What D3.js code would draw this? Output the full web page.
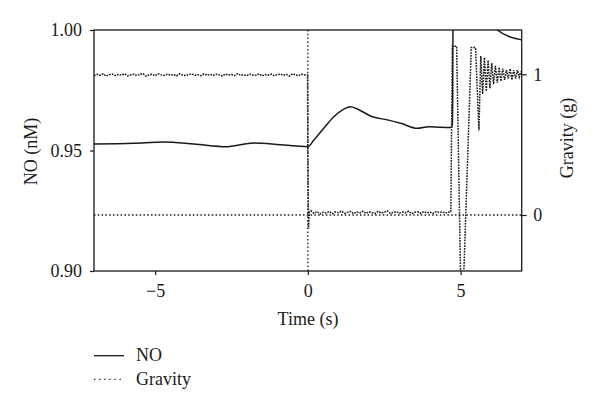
<!DOCTYPE html>
<html>
<head>
<meta charset="utf-8">
<script src="https://cdn.jsdelivr.net/npm/d3@7"></script>
<style>
  body { margin: 0; background: #fff; }
  svg { display: block; }
  text { font-family: "Liberation Serif", "DejaVu Serif", serif; fill: #1a1a1a; }
</style>
</head>
<body>
<svg id="chart" width="600" height="412"></svg>
<script>
// ---------------- DATA ----------------
// NO (nM), left axis — time (s)
const noTime = [-7.0, -5.7, -4.72, -3.73, -2.64, -1.77, -0.9, 0.0,
  0.2, 0.52, 0.85, 1.18, 1.4, 1.62, 2.11, 2.6, 3.04, 3.58, 3.96, 4.35, 4.67, 4.71, 4.73, 4.74, 4.76,
  5.5, 6.2, 7.0];
const noValue = [0.9527, 0.9530, 0.9535, 0.9527, 0.9516, 0.9531, 0.9524, 0.9516,
  0.9544, 0.9592, 0.9640, 0.9672, 0.9682, 0.9672, 0.9640, 0.9627, 0.9613, 0.9592, 0.9599, 0.9596, 0.9595, 0.9598, 0.9610, 0.9700, 1.0300,
  1.0100, 1.0000, 0.9959];

// Gravity (g), right axis — 1 g plateau before t = 0 (sampled every 0.1 s)
const gravityPreStart = -7.0;
const gravityPre = [0.990,1.000,0.993,1.003,0.988,0.997,1.002,0.991,0.998,0.994,
  1.004,0.989,0.996,1.001,0.992,0.999,1.006,0.987,0.995,1.000,
  0.990,1.003,0.996,0.992,1.001,0.994,0.998,0.989,1.004,0.995,
  0.991,0.999,1.002,0.993,0.997,0.990,1.003,0.994,0.999,0.992,
  1.001,0.996,0.988,1.002,0.995,0.999,0.991,1.004,0.993,0.997,
  0.990,1.000,0.995,0.992,1.003,0.989,0.998,0.994,1.001,0.991,
  0.997,1.002,0.993,0.999,0.988,1.004,0.995,0.991,1.000,0.996];
// transition at t = 0
const gravityDropTime = [-0.01, 0.0, 0.02, 0.05];
const gravityDrop = [0.996, 0.50, -0.10, 0.02];
// microgravity phase (sampled every 0.1 s from 0.1 s)
const gravityMicroStart = 0.1;
const gravityMicro = [0.030,0.012,0.024,0.008,0.020,0.014,0.026,0.010,0.022,0.016,
  0.028,0.011,0.019,0.025,0.009,0.021,0.015,0.027,0.012,0.023,
  0.017,0.010,0.026,0.014,0.020,0.029,0.011,0.018,0.024,0.013,
  0.021,0.016,0.027,0.010,0.019,0.023,0.012,0.025,0.015,0.020,
  0.011,0.024,0.017,0.022,0.013,0.019];
// landing / oscillation phase
const gravityEndTime = [4.68, 4.73, 4.75, 4.87, 5.00, 5.10, 5.35, 5.49, 5.60,
  5.66, 5.72, 5.78, 5.84, 5.90, 5.96, 6.02, 6.08, 6.14, 6.20, 6.26, 6.32, 6.38,
  6.44, 6.50, 6.56, 6.62, 6.68, 6.74, 6.80, 6.86, 6.92, 6.98];
const gravityEnd = [0.02, 1.20, 1.20, 1.20, -0.45, -0.45, 1.19, 1.19, 0.60,
  1.13, 0.86, 1.12, 0.88, 1.10, 0.90, 1.08, 0.93, 1.06, 0.94, 1.05, 0.95, 1.04,
  0.96, 1.03, 0.97, 1.04, 0.96, 1.03, 0.97, 1.03, 0.98, 1.02];

const xTicks = [-5, 0, 5];
const yLeftTicks = [0.90, 0.95, 1.00];
const yRightTicks = [0, 1];
const legendLabels = ["NO", "Gravity"];

// ---------------- LAYOUT ----------------
const L = 94, R = 521.7, T = 30, B = 271;
const svg = d3.select("#chart");
const x = d3.scaleLinear().domain([-7, 7]).range([L, R]);
const yL = d3.scaleLinear().domain([0.90, 1.00]).range([B, T]);
const yR = d3.scaleLinear().domain([-0.398, 1.315]).range([B, T]);

svg.append("defs").append("clipPath").attr("id", "clip")
  .append("rect").attr("x", L).attr("y", T).attr("width", R - L).attr("height", B - T);

const plot = svg.append("g").attr("clip-path", "url(#clip)");
const ink = "#1a1a1a";
const dots = "1.5,2.3";

// reference lines: t = 0 and g = 0
plot.append("line").attr("x1", x(0)).attr("x2", x(0)).attr("y1", T).attr("y2", B)
  .attr("stroke", ink).attr("stroke-width", 1.3).attr("stroke-dasharray", dots);
plot.append("line").attr("x1", L).attr("x2", R).attr("y1", yR(0)).attr("y2", yR(0))
  .attr("stroke", ink).attr("stroke-width", 1.3).attr("stroke-dasharray", dots);

// gravity series
const gPts = [];
gravityPre.forEach((v, i) => gPts.push([gravityPreStart + i * 0.1, v]));
gravityDrop.forEach((v, i) => gPts.push([gravityDropTime[i], v]));
gravityMicro.forEach((v, i) => gPts.push([gravityMicroStart + i * 0.1, v]));
gravityEnd.forEach((v, i) => gPts.push([gravityEndTime[i], v]));

const gLine = d3.line().x(d => x(d[0])).y(d => yR(d[1]));
plot.append("path").datum(gPts).attr("d", gLine)
  .attr("fill", "none").attr("stroke", ink).attr("stroke-width", 1.5)
  .attr("stroke-dasharray", "1.7,1.1");

// NO series
const noPts = noTime.map((t, i) => [t, noValue[i]]);
const nLine = d3.line().x(d => x(d[0])).y(d => yL(d[1])).curve(d3.curveMonotoneX);
plot.append("path").datum(noPts).attr("d", nLine)
  .attr("fill", "none").attr("stroke", ink).attr("stroke-width", 1.5);

// frame
svg.append("rect").attr("x", L).attr("y", T).attr("width", R - L).attr("height", B - T)
  .attr("fill", "none").attr("stroke", ink).attr("stroke-width", 1.3);

// axes
const fs = "18px";
const ax = svg.append("g").attr("transform", `translate(0,${B})`)
  .call(d3.axisBottom(x).tickValues(xTicks).tickSize(4).tickPadding(9).tickFormat(d3.format("")));
const ayl = svg.append("g").attr("transform", `translate(${L},0)`)
  .call(d3.axisLeft(yL).tickValues(yLeftTicks).tickSize(4).tickPadding(8).tickFormat(d3.format(".2f")));
const ayr = svg.append("g").attr("transform", `translate(${R},0)`)
  .call(d3.axisRight(yR).tickValues(yRightTicks).tickSize(5).tickPadding(11).tickFormat(d3.format("d")));
[ax, ayl, ayr].forEach(g => {
  g.select(".domain").remove();
  g.selectAll("line").attr("stroke", ink).attr("stroke-width", 1.2);
  g.selectAll("text").attr("font-size", fs).attr("font-family", "Liberation Serif").attr("fill", ink);
});
ayr.selectAll("text").attr("text-anchor", "middle").attr("x", 16);

// axis titles
svg.append("text").attr("x", 308).attr("y", 325).attr("text-anchor", "middle")
  .attr("font-size", fs).text("Time (s)");
svg.append("text").attr("transform", "translate(37,151.5) rotate(-90)").attr("text-anchor", "middle")
  .attr("font-size", fs).text("NO (nM)");
svg.append("text").attr("transform", "translate(573,138) rotate(-90)").attr("text-anchor", "middle")
  .attr("font-size", fs).text("Gravity (g)");

// legend
const lg = svg.append("g");
lg.append("line").attr("x1", 94).attr("x2", 124).attr("y1", 355.7).attr("y2", 355.7)
  .attr("stroke", ink).attr("stroke-width", 1.3);
lg.append("line").attr("x1", 94).attr("x2", 124).attr("y1", 379.3).attr("y2", 379.3)
  .attr("stroke", ink).attr("stroke-width", 1.2).attr("stroke-dasharray", "1.3,3.8");
lg.append("text").attr("x", 136).attr("y", 361).attr("font-size", fs).text(legendLabels[0]);
lg.append("text").attr("x", 136).attr("y", 384.5).attr("font-size", fs).text(legendLabels[1]);
</script>
</body>
</html>
